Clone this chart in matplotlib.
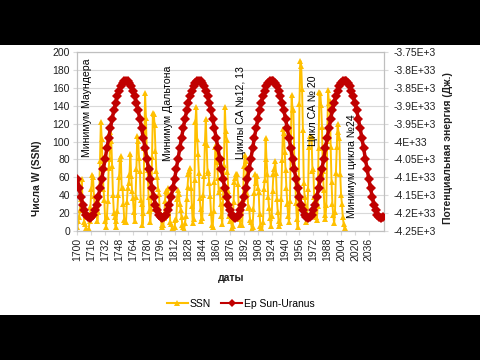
import numpy as np
import matplotlib
matplotlib.use("Agg")
import matplotlib.pyplot as plt  # noqa: E402
from matplotlib.patches import Rectangle  # noqa: E402
from matplotlib.lines import Line2D  # noqa: E402

plt.rcParams["font.family"] = ["Liberation Sans", "DejaVu Sans"]

# yearly sunspot numbers (old SILSO v1), 1700..2008
ssn_years = list(range(1700, 2009))
ssn = [
    5.0, 11.0, 16.0, 23.0, 36.0, 58.0, 29.0, 20.0, 10.0, 8.0,
    3.0, 0.0, 0.0, 2.0, 11.0, 27.0, 47.0, 63.0, 60.0, 39.0,
    28.0, 26.0, 22.0, 11.0, 21.0, 40.0, 78.0, 122.0, 103.0, 73.0,
    47.0, 35.0, 11.0, 5.0, 16.0, 34.0, 70.0, 81.0, 111.0, 101.0,
    73.0, 40.0, 20.0, 16.0, 5.0, 11.0, 22.0, 40.0, 60.0, 80.9,
    83.4, 47.7, 47.8, 30.7, 12.2, 9.6, 10.2, 32.4, 47.6, 54.0,
    62.9, 85.9, 61.2, 45.1, 36.4, 20.9, 11.4, 37.8, 69.8, 106.1,
    100.8, 81.6, 66.5, 34.8, 30.6, 7.0, 19.8, 92.5, 154.4, 125.9,
    84.8, 68.1, 38.5, 22.8, 10.2, 24.1, 82.9, 132.0, 130.9, 118.1,
    89.9, 66.6, 60.0, 46.9, 41.0, 21.3, 16.0, 6.4, 4.1, 6.8,
    14.5, 34.0, 45.0, 43.1, 47.5, 42.2, 28.1, 10.1, 8.1, 2.5,
    0.0, 1.4, 5.0, 12.2, 13.9, 35.4, 45.8, 41.0, 30.1, 23.9,
    15.6, 6.6, 4.0, 1.8, 8.5, 16.6, 36.3, 49.6, 64.2, 67.0,
    70.9, 47.8, 27.5, 8.5, 13.2, 56.9, 121.5, 138.3, 103.2, 85.7,
    64.6, 36.7, 24.2, 10.7, 15.0, 40.1, 61.5, 98.5, 124.7, 96.3,
    66.6, 64.5, 54.1, 39.0, 20.6, 6.7, 4.3, 22.7, 54.8, 93.8,
    95.8, 77.2, 59.1, 44.0, 47.0, 30.5, 16.3, 7.3, 37.6, 74.0,
    139.0, 111.2, 101.6, 66.2, 44.7, 17.0, 11.3, 12.4, 3.4, 6.0,
    32.3, 54.3, 59.7, 63.7, 63.5, 52.2, 25.4, 13.1, 6.8, 6.3,
    7.1, 35.6, 73.0, 85.1, 78.0, 64.0, 41.8, 26.2, 26.7, 12.1,
    9.5, 2.7, 5.0, 24.4, 42.0, 63.5, 53.8, 62.0, 48.5, 43.9,
    18.6, 5.7, 3.6, 1.4, 9.6, 47.4, 57.1, 103.9, 80.6, 63.6,
    37.6, 26.1, 14.2, 5.8, 16.7, 44.3, 63.9, 69.0, 77.8, 64.9,
    35.7, 21.2, 11.1, 5.7, 8.7, 36.1, 79.7, 114.4, 109.6, 88.8,
    67.8, 47.5, 30.6, 16.3, 9.6, 33.2, 92.6, 151.6, 136.3, 134.7,
    83.9, 69.4, 31.5, 13.9, 4.4, 38.0, 141.7, 190.2, 184.8, 159.0,
    112.3, 53.9, 37.6, 27.9, 10.2, 15.1, 47.0, 93.8, 105.9, 105.5,
    104.5, 66.6, 68.9, 38.0, 34.5, 15.5, 12.6, 27.5, 92.5, 155.4,
    154.6, 140.4, 115.9, 66.6, 45.9, 17.9, 13.4, 29.4, 100.2, 157.6,
    142.6, 145.7, 94.3, 54.6, 29.9, 17.5, 8.6, 21.5, 64.3, 93.3,
    119.6, 111.0, 104.0, 63.7, 40.4, 29.8, 15.2, 7.5, 2.9,
]

# potential energy Sun-Uranus, units of 1E+33 J, every 2 years 1700..2052
ep_years = list(range(1700, 2053, 2))
ep = [
    -4.105, -4.131, -4.155, -4.176, -4.192, -4.205, -4.212, -4.215, -4.212, -4.205,
    -4.192, -4.176, -4.155, -4.131, -4.105, -4.077, -4.048, -4.019, -3.990, -3.963,
    -3.937, -3.913, -3.892, -3.873, -3.858, -3.846, -3.837, -3.832, -3.830, -3.832,
    -3.837, -3.846, -3.858, -3.873, -3.892, -3.913, -3.937, -3.963, -3.990, -4.019,
    -4.048, -4.077,
    -4.105, -4.131, -4.155, -4.176, -4.192, -4.205, -4.212, -4.215, -4.212, -4.205,
    -4.192, -4.176, -4.155, -4.131, -4.105, -4.077, -4.048, -4.019, -3.990, -3.963,
    -3.937, -3.913, -3.892, -3.873, -3.858, -3.846, -3.837, -3.832, -3.830, -3.832,
    -3.837, -3.846, -3.858, -3.873, -3.892, -3.913, -3.937, -3.963, -3.990, -4.019,
    -4.048, -4.077,
    -4.105, -4.131, -4.155, -4.176, -4.192, -4.205, -4.212, -4.215, -4.212, -4.205,
    -4.192, -4.176, -4.155, -4.131, -4.105, -4.077, -4.048, -4.019, -3.990, -3.963,
    -3.937, -3.913, -3.892, -3.873, -3.858, -3.846, -3.837, -3.832, -3.830, -3.832,
    -3.837, -3.846, -3.858, -3.873, -3.892, -3.913, -3.937, -3.963, -3.990, -4.019,
    -4.048, -4.077,
    -4.105, -4.131, -4.155, -4.176, -4.192, -4.205, -4.212, -4.215, -4.212, -4.205,
    -4.192, -4.176, -4.155, -4.131, -4.105, -4.077, -4.048, -4.019, -3.990, -3.963,
    -3.937, -3.913, -3.892, -3.873, -3.858, -3.846, -3.837, -3.832, -3.830, -3.832,
    -3.837, -3.846, -3.858, -3.873, -3.892, -3.913, -3.937, -3.963, -3.990, -4.019,
    -4.048, -4.077,
    -4.105, -4.131, -4.155, -4.176, -4.192, -4.205, -4.212, -4.215, -4.212,
]

x_ticks = [1700, 1716, 1732, 1748, 1764, 1780, 1796, 1812, 1828, 1844, 1860,
           1876, 1892, 1908, 1924, 1940, 1956, 1972, 1988, 2004, 2020, 2036]
left_ticks = [0, 20, 40, 60, 80, 100, 120, 140, 160, 180, 200]
right_ticks = [-4.25, -4.2, -4.15, -4.1, -4.05, -4.0, -3.95, -3.9, -3.85, -3.8, -3.75]
right_labels = ["-4.25E+3", "-4.2E+33", "-4.15E+3", "-4.1E+33", "-4.05E+3", "-4E+33",
                "-3.95E+3", "-3.9E+33", "-3.85E+3", "-3.8E+33", "-3.75E+3"]

notes = ["Минимум Маундера", "Минимум Дальтона", "Циклы СА №12, 13",
         "Цикл СА № 20", "Минимум цикла №24"]
note_pos = [(87, 108), (168, 113), (241, 113), (313, 111), (352, 166)]

SSN_COLOR = "#FFC000"
EP_COLOR = "#C00000"
GRID = "#D9D9D9"
W, H = 480, 360


def px(x, y):
    return x / W, 1 - y / H


fig = plt.figure(figsize=(4.8, 3.6), dpi=100)
fig.patch.set_facecolor("black")
fig.add_artist(Rectangle((0, 45 / H), 1, 270 / H, transform=fig.transFigure,
                         facecolor="white", edgecolor="none", zorder=0))

ax = fig.add_axes([77 / W, 1 - 231 / H, (384 - 77) / W, (231 - 52) / H])
ax.plot(ssn_years, ssn, color=SSN_COLOR, lw=1.4, marker="^", ms=5,
        markeredgewidth=0, zorder=2)
ax.set_xlim(1699.5, 2053.5)
ax.set_ylim(0, 200)
ax.set_yticks(left_ticks)
ax.set_xticks(x_ticks)
ax.set_xticklabels([str(t) for t in x_ticks], rotation=90)
ax.yaxis.grid(True, color=GRID, lw=0.8)
ax.set_axisbelow(True)
ax.tick_params(axis="both", labelsize=7.5, colors=GRID, labelcolor="#202020",
               length=3, width=0.8, pad=2)
for s in ax.spines.values():
    s.set_color("#BFBFBF")
    s.set_linewidth(0.8)

ax2 = ax.twinx()
ax2.plot(ep_years, ep, color=EP_COLOR, lw=2.5, marker="D", ms=5.5,
         markeredgewidth=0, zorder=3)
ax2.set_ylim(-4.25, -3.75)
ax2.set_yticks(right_ticks)
ax2.set_yticklabels(right_labels)
ax2.tick_params(axis="y", labelsize=7.5, colors=GRID, labelcolor="#202020",
                length=3, width=0.8, pad=4)
for s in ax2.spines.values():
    s.set_color("#BFBFBF")
    s.set_linewidth(0.8)

for txt, (x, y) in zip(notes, note_pos):
    fig.text(*px(x, y), txt, rotation=90, ha="center", va="center",
             fontsize=7.6, color="black", zorder=10)

fig.text(*px(37, 178), "Числа W (SSN)", rotation=90, ha="center", va="center",
         fontsize=7.5, fontweight="bold", color="#202020")
fig.text(*px(448, 148), "Потенциальная энергия (Дж.)", rotation=90,
         ha="center", va="center", fontsize=7.5, fontweight="bold",
         color="#202020")
fig.text(*px(231, 278), "даты", ha="center", va="center", fontsize=7.5,
         fontweight="bold", color="#202020")

handles = [
    Line2D([], [], color=SSN_COLOR, lw=1.5, marker="^", ms=5, markeredgewidth=0),
    Line2D([], [], color=EP_COLOR, lw=1.5, marker="D", ms=4, markeredgewidth=0),
]
fig.legend(handles, ["SSN", "Ep Sun-Uranus"], loc="center",
           bbox_to_anchor=px(241, 304), ncol=2, frameon=False, fontsize=7.5,
           handlelength=2.0, handletextpad=0.2, columnspacing=1.0)

fig.savefig("out.png", dpi=100, facecolor=fig.get_facecolor())
